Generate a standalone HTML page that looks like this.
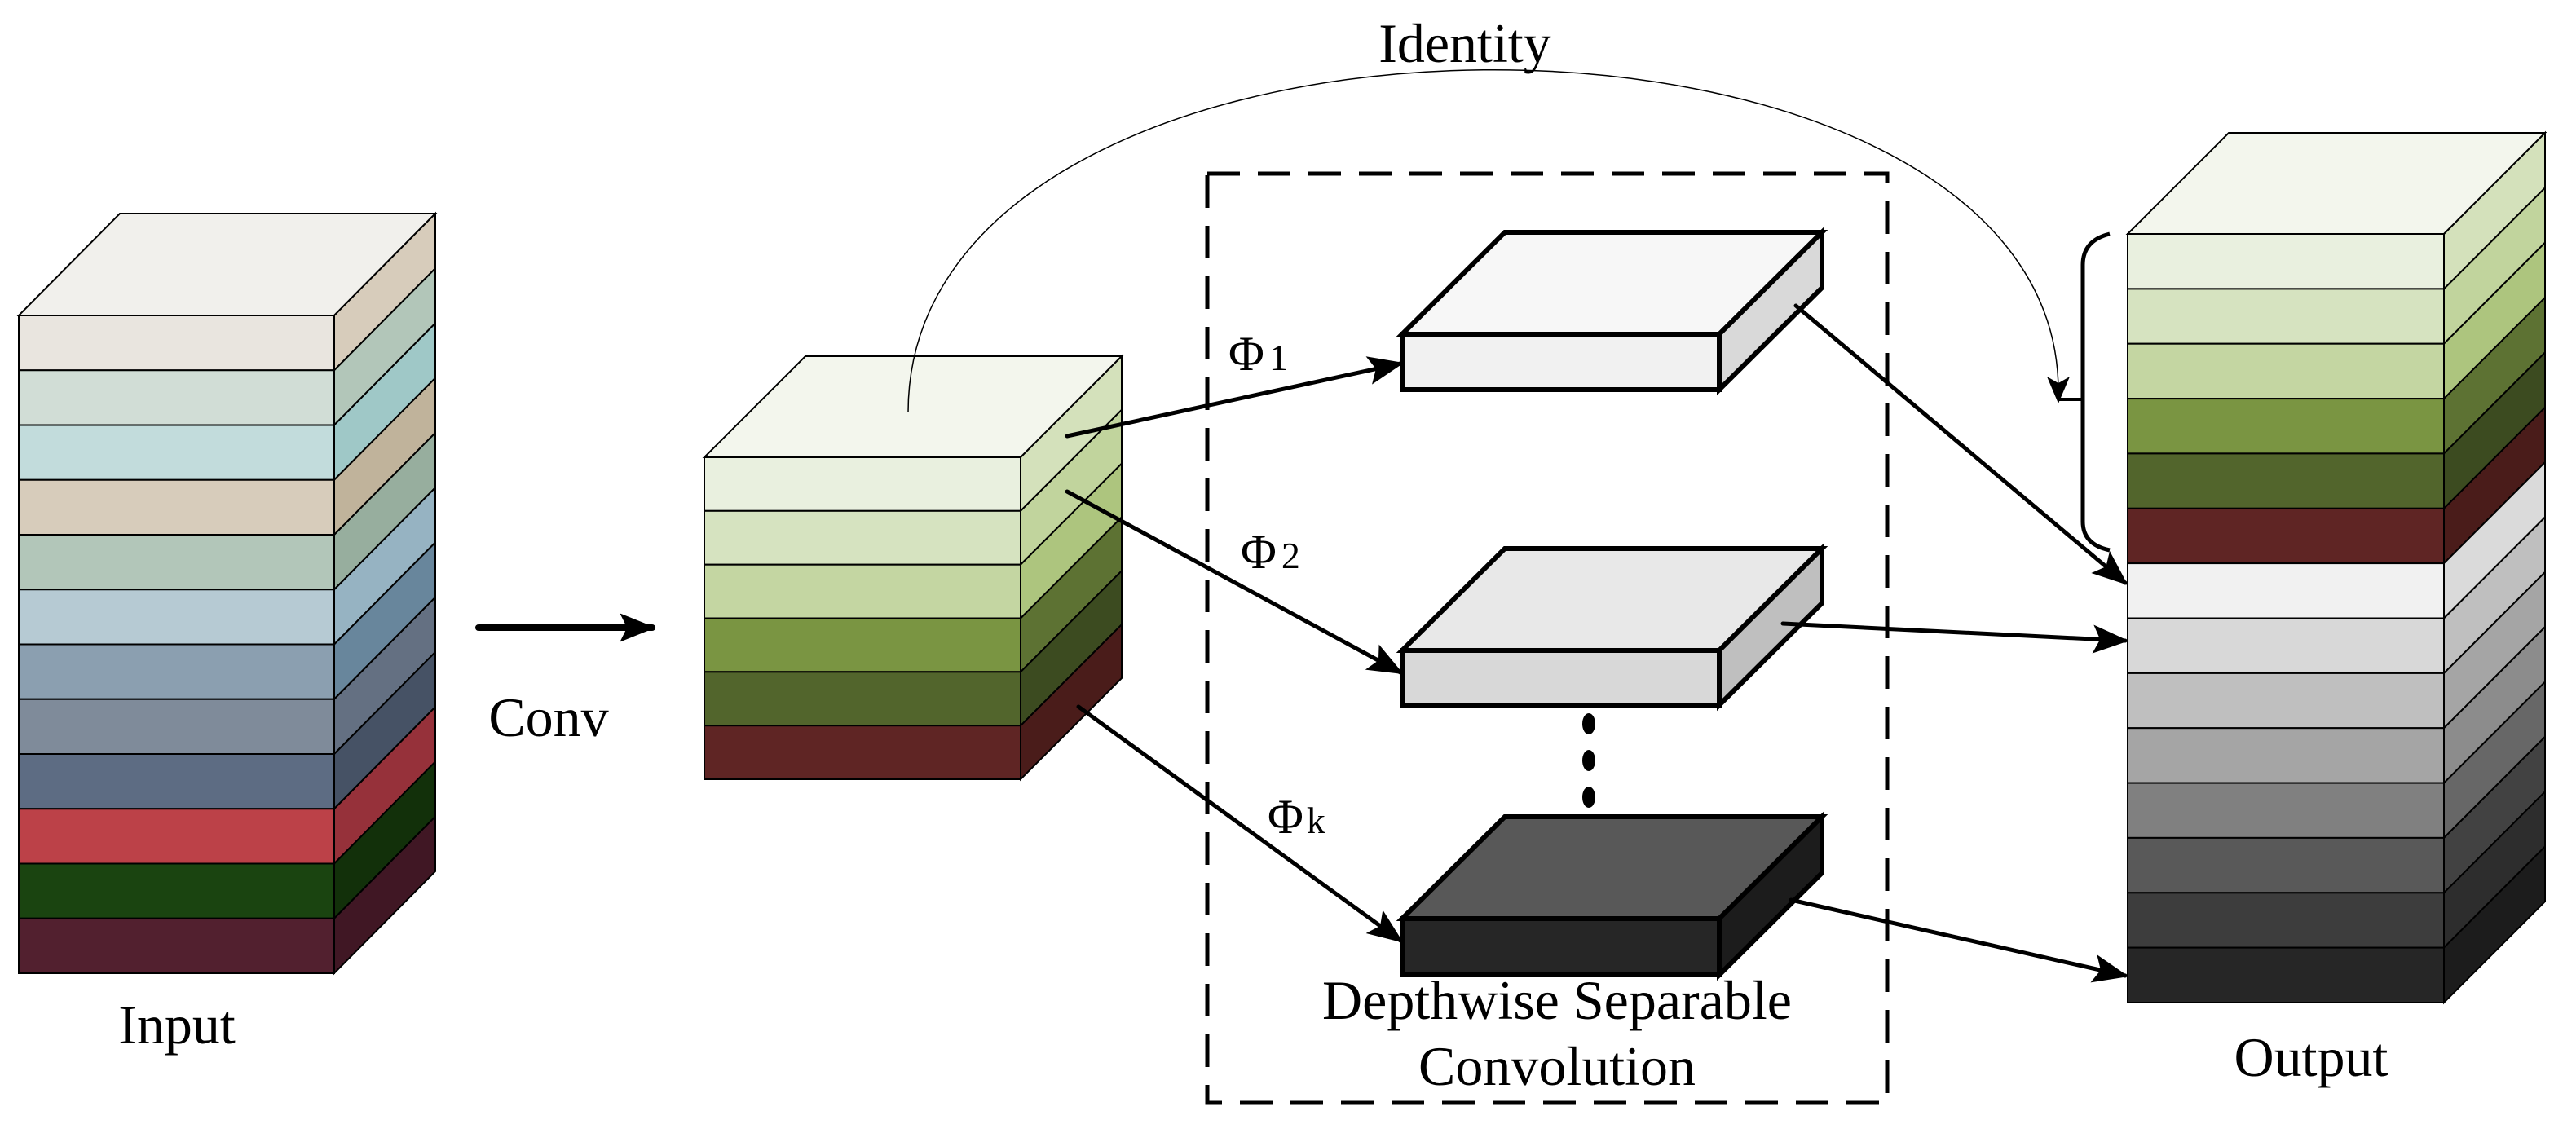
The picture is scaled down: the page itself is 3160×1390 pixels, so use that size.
<!DOCTYPE html>
<html><head><meta charset="utf-8"><style>html,body{margin:0;padding:0;background:#fff}svg{display:block}</style></head><body>
<svg width="3160" height="1390" viewBox="0 0 3160 1390" xmlns="http://www.w3.org/2000/svg" font-family="Liberation Serif, serif">
<defs>
<marker id="ab" viewBox="0 0 10 8" refX="9" refY="4" markerWidth="44" markerHeight="36" orient="auto" markerUnits="userSpaceOnUse"><path d="M0,0 L10,4 L0,8 L2,4 Z" fill="#000"/></marker>
</defs>
<g stroke="#000" stroke-width="2">
<polygon points="23,387 147,262 534,262 410,387" fill="#f1f0ec"/>
<rect x="23" y="387" width="387" height="67.25" fill="#e9e5df"/>
<rect x="23" y="454.25" width="387" height="67.25" fill="#d1ddd6"/>
<rect x="23" y="521.5" width="387" height="67.25" fill="#c2dcdc"/>
<rect x="23" y="588.75" width="387" height="67.25" fill="#d7ccbb"/>
<rect x="23" y="656" width="387" height="67.25" fill="#b2c6b9"/>
<rect x="23" y="723.25" width="387" height="67.25" fill="#b6cad3"/>
<rect x="23" y="790.5" width="387" height="67.25" fill="#8b9fb0"/>
<rect x="23" y="857.75" width="387" height="67.25" fill="#7f8b9a"/>
<rect x="23" y="925" width="387" height="67.25" fill="#5d6c83"/>
<rect x="23" y="992.25" width="387" height="67.25" fill="#bc4148"/>
<rect x="23" y="1059.5" width="387" height="67.25" fill="#1a4410"/>
<rect x="23" y="1126.75" width="387" height="67.25" fill="#52202f"/>
<polygon points="410,387 534,262 534,329.25 410,454.25" fill="#d7ccbb"/>
<polygon points="410,454.25 534,329.25 534,396.5 410,521.5" fill="#b2c6b9"/>
<polygon points="410,521.5 534,396.5 534,463.75 410,588.75" fill="#9fc8c7"/>
<polygon points="410,588.75 534,463.75 534,531 410,656" fill="#c0b39b"/>
<polygon points="410,656 534,531 534,598.25 410,723.25" fill="#97ae9e"/>
<polygon points="410,723.25 534,598.25 534,665.5 410,790.5" fill="#96b3c2"/>
<polygon points="410,790.5 534,665.5 534,732.75 410,857.75" fill="#68869c"/>
<polygon points="410,857.75 534,732.75 534,800 410,925" fill="#647082"/>
<polygon points="410,925 534,800 534,867.25 410,992.25" fill="#465265"/>
<polygon points="410,992.25 534,867.25 534,934.5 410,1059.5" fill="#96313a"/>
<polygon points="410,1059.5 534,934.5 534,1001.75 410,1126.75" fill="#12300a"/>
<polygon points="410,1126.75 534,1001.75 534,1069 410,1194" fill="#401724"/>

<polygon points="864,561 988,437 1376,437 1252,561" fill="#f3f6ed"/>
<rect x="864" y="561" width="388" height="65.8" fill="#e9f0df"/>
<rect x="864" y="626.8" width="388" height="65.9" fill="#d6e3c0"/>
<rect x="864" y="692.7" width="388" height="65.8" fill="#c4d6a2"/>
<rect x="864" y="758.5" width="388" height="65.8" fill="#7a9542"/>
<rect x="864" y="824.3" width="388" height="65.9" fill="#52652c"/>
<rect x="864" y="890.2" width="388" height="65.8" fill="#5f2524"/>
<polygon points="1252,561 1376,437 1376,502.8 1252,626.8" fill="#d4e1bb"/>
<polygon points="1252,626.8 1376,502.8 1376,568.7 1252,692.7" fill="#c1d49d"/>
<polygon points="1252,692.7 1376,568.7 1376,634.5 1252,758.5" fill="#adc57e"/>
<polygon points="1252,758.5 1376,634.5 1376,700.3 1252,824.3" fill="#5d7233"/>
<polygon points="1252,824.3 1376,700.3 1376,766.2 1252,890.2" fill="#3c4b20"/>
<polygon points="1252,890.2 1376,766.2 1376,832 1252,956" fill="#4a1c1a"/>

<polygon points="2610,287 2734,163 3122,163 2998,287" fill="#f3f6ed"/>
<rect x="2610" y="287" width="388" height="67.4" fill="#e9f0df"/>
<rect x="2610" y="354.4" width="388" height="67.3" fill="#d6e3c0"/>
<rect x="2610" y="421.7" width="388" height="67.4" fill="#c4d6a2"/>
<rect x="2610" y="489.1" width="388" height="67.3" fill="#7a9542"/>
<rect x="2610" y="556.4" width="388" height="67.4" fill="#52652c"/>
<rect x="2610" y="623.8" width="388" height="67.3" fill="#5f2524"/>
<rect x="2610" y="691.1" width="388" height="67.4" fill="#f1f1f1"/>
<rect x="2610" y="758.5" width="388" height="67.4" fill="#d8d8d8"/>
<rect x="2610" y="825.9" width="388" height="67.3" fill="#bfbfbf"/>
<rect x="2610" y="893.2" width="388" height="67.4" fill="#a5a5a5"/>
<rect x="2610" y="960.6" width="388" height="67.3" fill="#808080"/>
<rect x="2610" y="1027.9" width="388" height="67.4" fill="#595959"/>
<rect x="2610" y="1095.3" width="388" height="67.3" fill="#3d3d3d"/>
<rect x="2610" y="1162.6" width="388" height="67.4" fill="#262626"/>
<polygon points="2998,287 3122,163 3122,230.4 2998,354.4" fill="#d4e1bb"/>
<polygon points="2998,354.4 3122,230.4 3122,297.7 2998,421.7" fill="#c1d49d"/>
<polygon points="2998,421.7 3122,297.7 3122,365.1 2998,489.1" fill="#adc57e"/>
<polygon points="2998,489.1 3122,365.1 3122,432.4 2998,556.4" fill="#5d7233"/>
<polygon points="2998,556.4 3122,432.4 3122,499.8 2998,623.8" fill="#3c4b20"/>
<polygon points="2998,623.8 3122,499.8 3122,567.1 2998,691.1" fill="#4a1c1a"/>
<polygon points="2998,691.1 3122,567.1 3122,634.5 2998,758.5" fill="#dadada"/>
<polygon points="2998,758.5 3122,634.5 3122,701.9 2998,825.9" fill="#bfbfbf"/>
<polygon points="2998,825.9 3122,701.9 3122,769.2 2998,893.2" fill="#a5a5a5"/>
<polygon points="2998,893.2 3122,769.2 3122,836.6 2998,960.6" fill="#8c8c8c"/>
<polygon points="2998,960.6 3122,836.6 3122,903.9 2998,1027.9" fill="#676767"/>
<polygon points="2998,1027.9 3122,903.9 3122,971.3 2998,1095.3" fill="#424242"/>
<polygon points="2998,1095.3 3122,971.3 3122,1038.6 2998,1162.6" fill="#2d2d2d"/>
<polygon points="2998,1162.6 3122,1038.6 3122,1106 2998,1230" fill="#1c1c1c"/>
</g>

<rect x="1481" y="213" width="834" height="1140" fill="none" stroke="#000" stroke-width="5" stroke-dasharray="40,22"/>

<g stroke="#000" stroke-width="6" stroke-linejoin="miter">
<polygon points="1720,410 1846,285 2235,285 2109,410" fill="#f7f7f7"/>
<rect x="1720" y="410" width="389" height="68" fill="#f1f1f1"/>
<polygon points="2109,410 2235,285 2235,353 2109,478" fill="#d9d9d9"/>
<polygon points="1720,798 1846,673 2235,673 2109,798" fill="#e8e8e8"/>
<rect x="1720" y="798" width="389" height="67" fill="#d8d8d8"/>
<polygon points="2109,798 2235,673 2235,740 2109,865" fill="#bfbfbf"/>
<polygon points="1720,1127 1846,1002 2235,1002 2109,1127" fill="#585858"/>
<rect x="1720" y="1127" width="389" height="69" fill="#262626"/>
<polygon points="2109,1127 2235,1002 2235,1071 2109,1196" fill="#1c1c1c"/>
</g>
<ellipse cx="1949" cy="888" rx="8" ry="13" fill="#000"/>
<ellipse cx="1949" cy="933" rx="8" ry="13" fill="#000"/>
<ellipse cx="1949" cy="978" rx="8" ry="13" fill="#000"/>

<g stroke="#000" stroke-width="5" fill="none" stroke-linecap="round">
<line x1="1309" y1="535" x2="1718" y2="446" marker-end="url(#ab)"/>
<line x1="1309" y1="603" x2="1718" y2="825" marker-end="url(#ab)"/>
<line x1="1323" y1="867" x2="1718" y2="1154" marker-end="url(#ab)"/>
<line x1="2203" y1="375" x2="2607" y2="715" marker-end="url(#ab)"/>
<line x1="2187" y1="765" x2="2607" y2="786" marker-end="url(#ab)"/>
<line x1="2197" y1="1104" x2="2607" y2="1197" marker-end="url(#ab)"/>
<line x1="587" y1="770" x2="800" y2="770" stroke-width="8" marker-end="url(#ab)"/>
</g>

<path d="M1114,506 C1114,-50 2525,-50 2525,480" fill="none" stroke="#000" stroke-width="1.5"/>
<path d="M2511,462 L2525,495 L2539,462 L2525,470 Z" fill="#000"/>
<path d="M2588,287 Q2555,295 2555,325 L2555,640 Q2555,668 2588,675" fill="none" stroke="#000" stroke-width="5"/>
<line x1="2525" y1="490" x2="2555" y2="490" stroke="#000" stroke-width="4"/>

<g fill="#000" font-size="68">
<text x="1797" y="76" text-anchor="middle">Identity</text>
<text x="217" y="1280" text-anchor="middle">Input</text>
<text x="673" y="903" text-anchor="middle">Conv</text>
<text x="2835" y="1320" text-anchor="middle">Output</text>
<text x="1910" y="1250" text-anchor="middle">Depthwise Separable</text>
<text x="1910" y="1331" text-anchor="middle">Convolution</text>
<text x="1507" y="454" font-size="60">Φ<tspan font-size="46" dx="6">1</tspan></text>
<text x="1522" y="697" font-size="60">Φ<tspan font-size="46" dx="6">2</tspan></text>
<text x="1555" y="1022" font-size="60">Φ<tspan font-size="46" dx="4">k</tspan></text>
</g>
</svg>
</body></html>
